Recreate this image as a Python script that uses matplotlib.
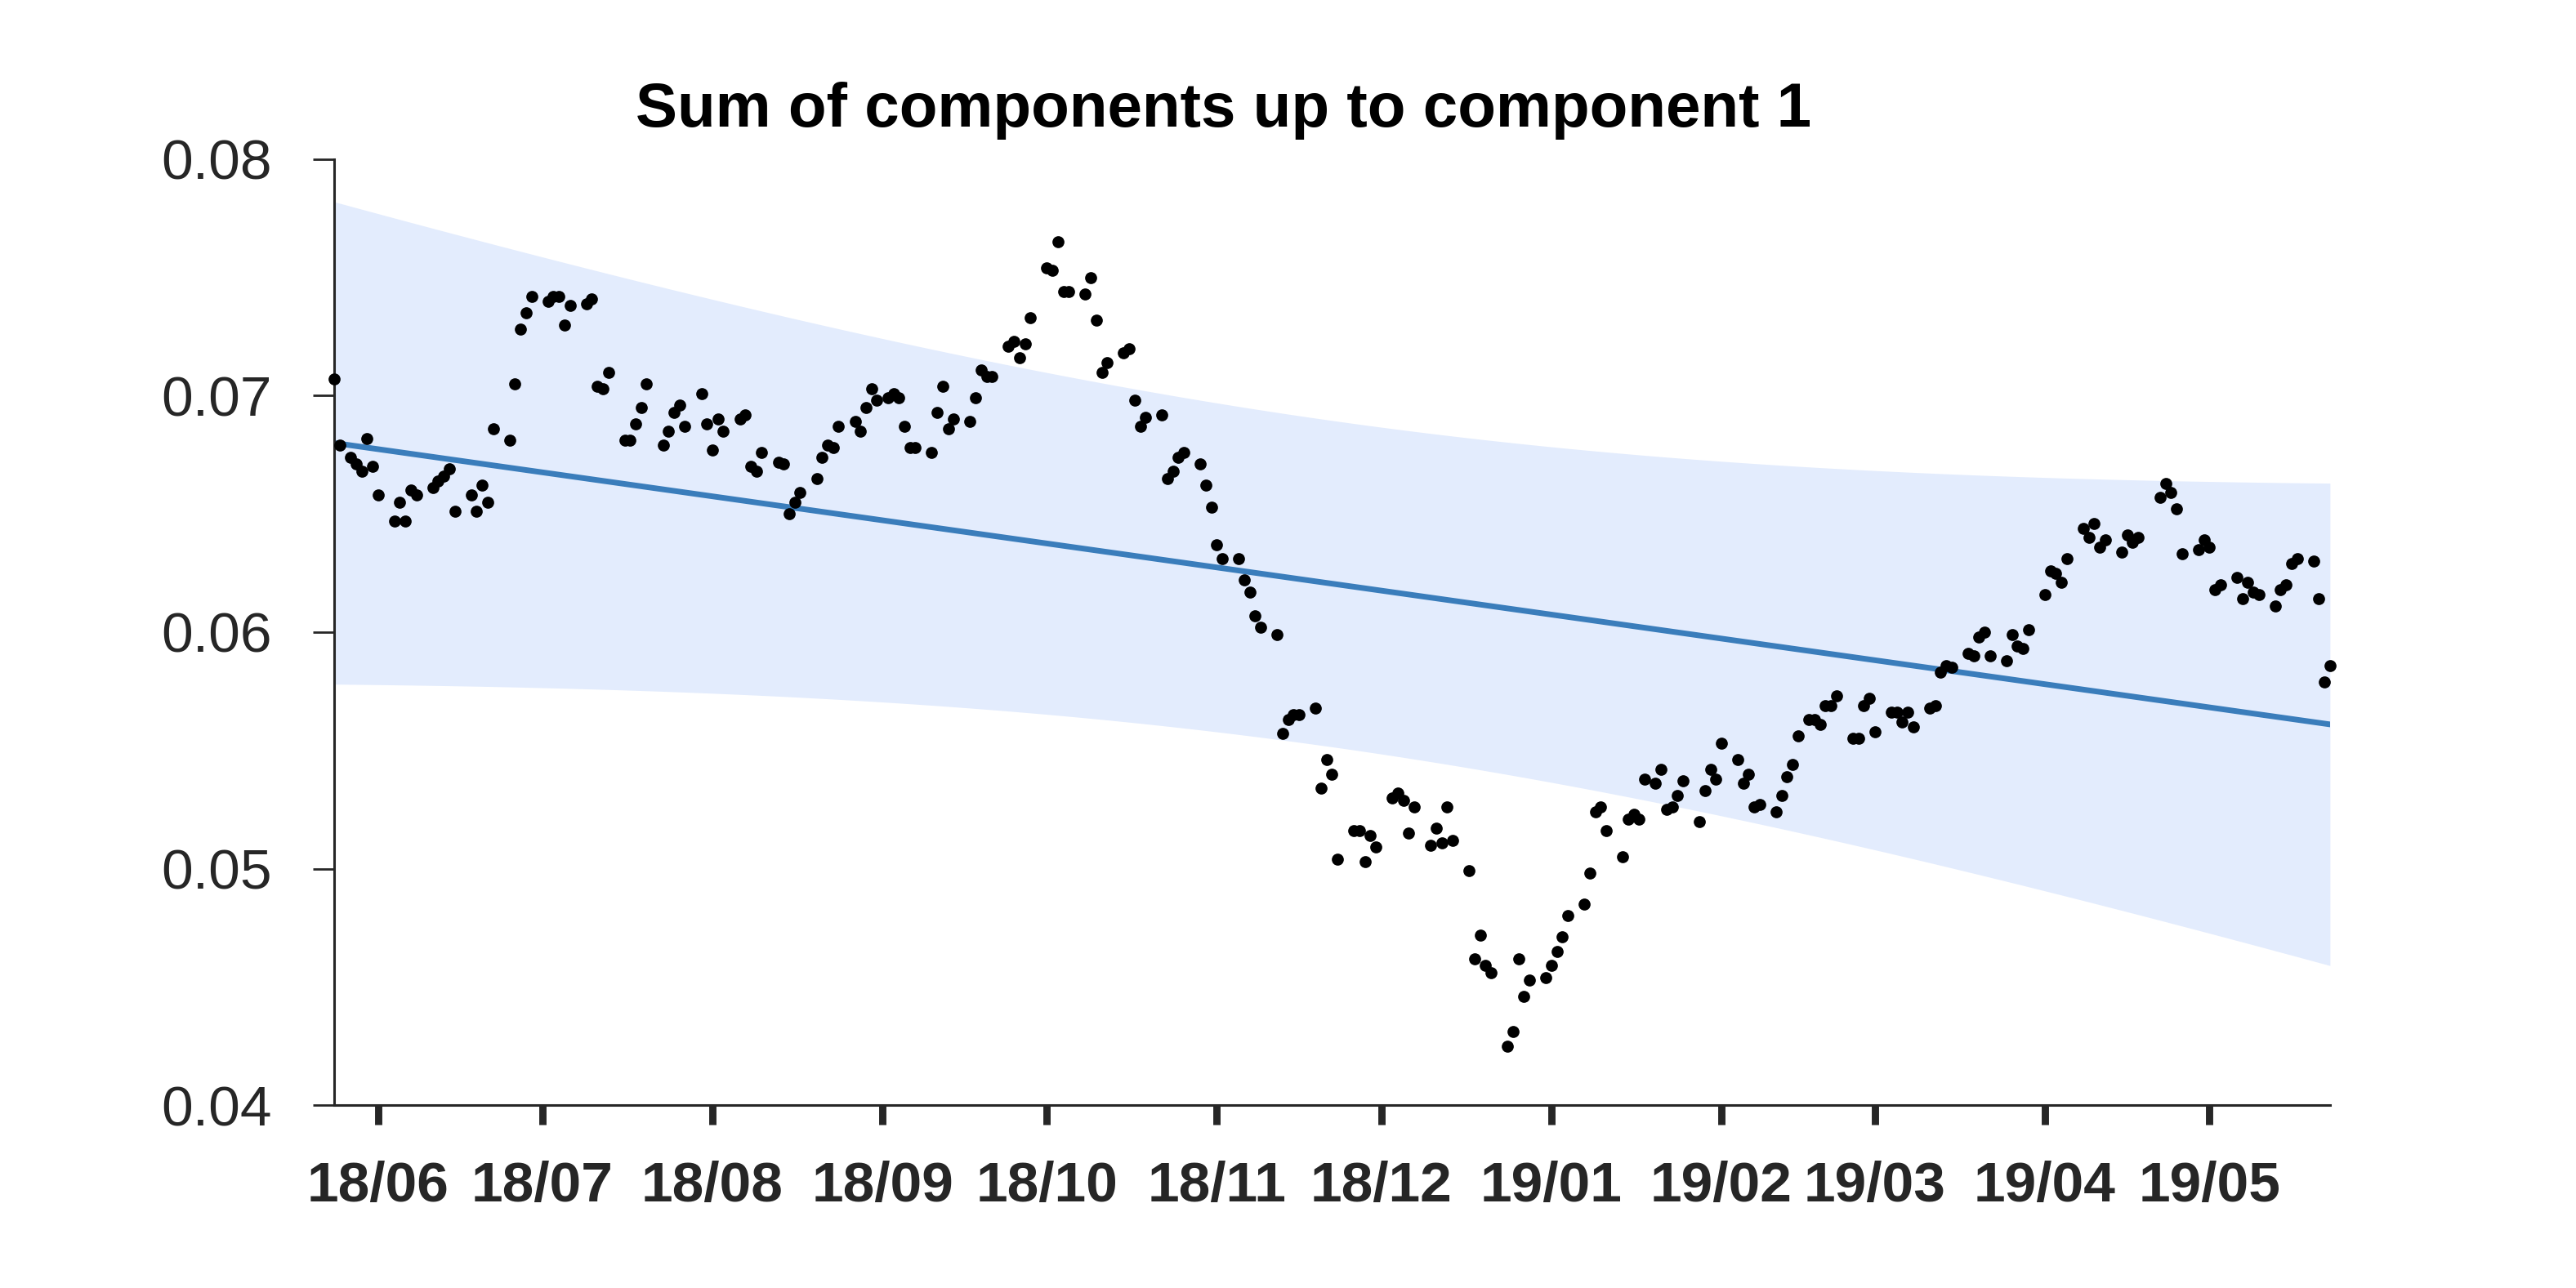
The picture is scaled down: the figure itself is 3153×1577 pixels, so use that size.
import numpy as np
import pandas as pd
import matplotlib
matplotlib.use("Agg")
import matplotlib.pyplot as plt
import matplotlib.dates as mdates

plt.rcParams['font.family'] = ['Liberation Sans', 'DejaVu Sans']

# dates: business days, plus a few sunday points, minus a missing day
start_date, end_date = "2018-05-24", "2019-05-23"
extra_days = ["2018-05-27", "2018-09-02", "2019-01-20", "2019-02-17"]
missing_days = ["2019-04-19"]

# one row per week
values = [
    0.0707, 0.0679,
    0.0674, 0.0671, 0.0668, 0.0682, 0.0670, 0.0658,
    0.0647, 0.0655, 0.0647, 0.0660, 0.0658,
    0.0661, 0.0664, 0.0666, 0.0669, 0.0651,
    0.0658, 0.0651, 0.0662, 0.0655, 0.0686,
    0.0681, 0.0705, 0.0728, 0.0735, 0.0742,
    0.0740, 0.0742, 0.0742, 0.0730, 0.0738,
    0.0739, 0.0741, 0.0704, 0.0703, 0.0710,
    0.0681, 0.0681, 0.0688, 0.0695, 0.0705,
    0.0679, 0.0685, 0.0693, 0.0696, 0.0687,
    0.0701, 0.0688, 0.0677, 0.0690, 0.0685,
    0.0690, 0.0692, 0.0670, 0.0668, 0.0676,
    0.0672, 0.0671, 0.0650, 0.0655, 0.0659,
    0.0665, 0.0674, 0.0679, 0.0678, 0.0687,
    0.0689, 0.0685, 0.0695, 0.0703, 0.0698,
    0.0699, 0.0701, 0.0699, 0.0687, 0.0678, 0.0678,
    0.0676, 0.0693, 0.0704, 0.0686, 0.0690,
    0.0689, 0.0699, 0.0711, 0.0708, 0.0708,
    0.0721, 0.0723, 0.0716, 0.0722, 0.0733,
    0.0754, 0.0753, 0.0765, 0.0744, 0.0744,
    0.0743, 0.0750, 0.0732, 0.0710, 0.0714,
    0.0718, 0.0720, 0.0698, 0.0687, 0.0691,
    0.0692, 0.0665, 0.0668, 0.0674, 0.0676,
    0.0671, 0.0662, 0.0653, 0.0637, 0.0631,
    0.0631, 0.0622, 0.0617, 0.0607, 0.0602,
    0.0599, 0.0557, 0.0563, 0.0565, 0.0565,
    0.0568, 0.0534, 0.0546, 0.0540, 0.0504,
    0.0516, 0.0516, 0.0503, 0.0514, 0.0509,
    0.0530, 0.0532, 0.0529, 0.0515, 0.0526,
    0.0510, 0.0517, 0.0511, 0.0526, 0.0512,
    0.0499, 0.0462, 0.0472, 0.0459, 0.0456,
    0.0425, 0.0431, 0.0462, 0.0446, 0.0453,
    0.0454, 0.0459, 0.0465, 0.0471, 0.0480,
    0.0485, 0.0498, 0.0524, 0.0526, 0.0516,
    0.0505, 0.0521, 0.0523, 0.0521, 0.0538,
    0.0536, 0.0542, 0.0525, 0.0526, 0.0531, 0.0537,
    0.0520, 0.0533, 0.0542, 0.0538, 0.0553,
    0.0546, 0.0536, 0.0540, 0.0526, 0.0527,
    0.0524, 0.0531, 0.0539, 0.0544, 0.0556,
    0.0563, 0.0563, 0.0561, 0.0569, 0.0569, 0.0573,
    0.0555, 0.0555, 0.0569, 0.0572, 0.0558,
    0.0566, 0.0566, 0.0562, 0.0566, 0.0560,
    0.0568, 0.0569, 0.0583, 0.0586, 0.0585,
    0.0591, 0.0590, 0.0598, 0.0600, 0.0590,
    0.0588, 0.0599, 0.0594, 0.0593, 0.0601,
    0.0616, 0.0626, 0.0625, 0.0621, 0.0631,
    0.0644, 0.0640, 0.0646, 0.0636, 0.0639,
    0.0634, 0.0641, 0.0638, 0.0640,
    0.0657, 0.0663, 0.0659, 0.0652, 0.0633,
    0.0635, 0.0639, 0.0636, 0.0618, 0.0620,
    0.0623, 0.0614, 0.0621, 0.0617, 0.0616,
    0.0611, 0.0618, 0.0620, 0.0629, 0.0631,
    0.0630, 0.0614, 0.0579, 0.0586,
]

# trend line ends and band half-widths (middle / ends)
trend_start, trend_end = 0.0680, 0.0561
band_mid, band_end = 0.0069, 0.0102

dates = pd.bdate_range(start_date, end_date)
dates = dates.union(pd.to_datetime(extra_days)).difference(pd.to_datetime(missing_days))
values = np.array(values)

x = mdates.date2num(dates)
x0, x1 = x[0], x[-1]
xs = np.linspace(x0, x1, 400)
frac = (xs - x0) / (x1 - x0)
mean = trend_start + (trend_end - trend_start) * frac
t = 2 * frac - 1
half = np.sqrt(band_mid ** 2 + (band_end ** 2 - band_mid ** 2) * t ** 2)

fig = plt.figure(figsize=(15.765, 7.885), dpi=200)
ax = fig.add_axes([0.1297, 0.1420, 0.7748, 0.7344])

ax.fill_between(xs, mean - half, mean + half, color='#e3ecfd', lw=0, zorder=1)
ax.plot(xs, mean, color='#3a7dbb', lw=2.5, zorder=2)
ax.scatter(x, values, s=28, color='black', lw=0, zorder=3, clip_on=False)

ax.set_xlim(x0, x1)
ax.set_ylim(0.04, 0.08)
ax.set_yticks([0.04, 0.05, 0.06, 0.07, 0.08])
ax.yaxis.set_major_formatter(matplotlib.ticker.FormatStrFormatter('%.2f'))
ax.xaxis.set_major_locator(mdates.MonthLocator())
ax.xaxis.set_major_formatter(mdates.DateFormatter('%y/%m'))

for side in ['top', 'right']:
    ax.spines[side].set_visible(False)
for side in ['left', 'bottom']:
    ax.spines[side].set_color('#262626')
    ax.spines[side].set_linewidth(1.1)

ax.tick_params(axis='y', direction='out', length=9.5, width=1.0, pad=18,
               labelsize=25, colors='#262626')
ax.tick_params(axis='x', direction='out', length=8.5, width=3.2, pad=16,
               labelsize=25, colors='#262626')
for lab in ax.get_xticklabels():
    lab.set_fontweight('bold')

fig.text(0.475, 0.902, 'Sum of components up to component 1', ha='center',
         va='baseline', fontsize=27.5, fontweight='bold', color='black')

fig.savefig('out.png', dpi=200)
